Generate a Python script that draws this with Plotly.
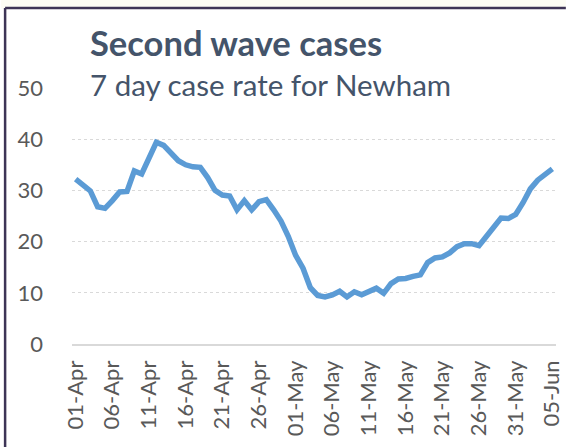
import plotly.graph_objects as go
from datetime import date, timedelta

# ---- data ----
start = date(2021, 4, 1)
n_days = 66
dates = [(start + timedelta(days=i)).strftime("%d-%b") for i in range(n_days)]
case_rate = [
    32.2, 31.2, 29.9, 26.8, 26.5, 28.0, 29.7, 29.8, 33.8, 33.2,
    36.5, 39.4, 38.8, 37.2, 35.8, 35.0, 34.6, 34.5, 32.5, 30.0,
    29.1, 28.9, 26.2, 28.0, 26.2, 27.8, 28.2, 26.2, 24.0, 21.0,
    17.3, 14.8, 11.0, 9.5, 9.2, 9.6, 10.3, 9.2, 10.2, 9.6,
    10.2, 10.9, 9.9, 11.8, 12.7, 12.8, 13.2, 13.5, 15.9, 16.8,
    17.0, 17.8, 19.0, 19.6, 19.6, 19.2, 21.0, 22.9, 24.6, 24.5,
    25.3, 27.6, 30.3, 32.0, 33.0, 34.2,
]
tick_labels = dates[::5]
y_ticks = [0, 10, 20, 30, 40, 50]
title_text = "Second wave cases"
subtitle_text = "7 day case rate for Newham"

FONT = "Lato"
TXT = "#44546a"
TICK = "#595959"
GRID = "#d9d9d9"

W, H = 574, 447
ML, MR, MT, MB = 72, 10, 88, 103
pw = W - ML - MR
ph = H - MT - MB

def px(x):
    return (x - ML) / pw

def py(y):
    return (H - MB - y) / ph

fig = go.Figure()
fig.add_trace(go.Scatter(
    x=list(range(n_days)), y=case_rate, mode="lines",
    line=dict(color="#5b9bd5", width=5.5, shape="linear"),
    hoverinfo="y", cliponaxis=False,
))

fig.update_layout(
    width=W, height=H,
    margin=dict(l=ML, r=MR, t=MT, b=MB),
    paper_bgcolor="white", plot_bgcolor="white",
    showlegend=False,
    font=dict(family=FONT, color=TICK),
    xaxis=dict(
        range=[-0.5, n_days - 0.5],
        tickmode="array",
        tickvals=list(range(0, n_days, 5)),
        ticktext=tick_labels,
        tickangle=-90,
        tickfont=dict(family=FONT, size=22, color=TICK),
        showgrid=False, zeroline=False,
        showline=True, linecolor=GRID, linewidth=1.5,
        ticks="", ticklabelstandoff=6,
    ),
    yaxis=dict(
        range=[0, 50],
        tickvals=y_ticks,
        tickfont=dict(family=FONT, size=22, color=TICK),
        showgrid=True, gridcolor=GRID, griddash="dot", gridwidth=1,
        zeroline=False, showline=False, ticks="",
        ticklabelstandoff=28,
    ),
    shapes=[
        dict(type="rect", xref="paper", yref="paper",
             x0=px(0), x1=px(W), y0=py(8.5), y1=py(0),
             fillcolor="#fcfcf4", line=dict(width=0), layer="below"),
        dict(type="line", xref="paper", yref="paper",
             x0=px(4), x1=px(W), y0=py(8), y1=py(8),
             line=dict(color="#3d3456", width=2.5)),
        dict(type="line", xref="paper", yref="paper",
             x0=px(4), x1=px(4), y0=py(8), y1=py(H),
             line=dict(color="#3d3456", width=2.5)),
    ],
    annotations=[
        dict(text="<b>" + title_text + "</b>", xref="paper", yref="paper",
             x=px(88), y=py(42), xanchor="left", yanchor="middle",
             showarrow=False, font=dict(family=FONT, size=34.5, color=TXT)),
        dict(text=subtitle_text, xref="paper", yref="paper",
             x=px(88), y=py(84), xanchor="left", yanchor="middle",
             showarrow=False, font=dict(family=FONT, size=29.5, color=TXT)),
    ],
)

fig.write_html("out.html", config={"displayModeBar": False},
               post_script="document.body.style.margin='0';")
